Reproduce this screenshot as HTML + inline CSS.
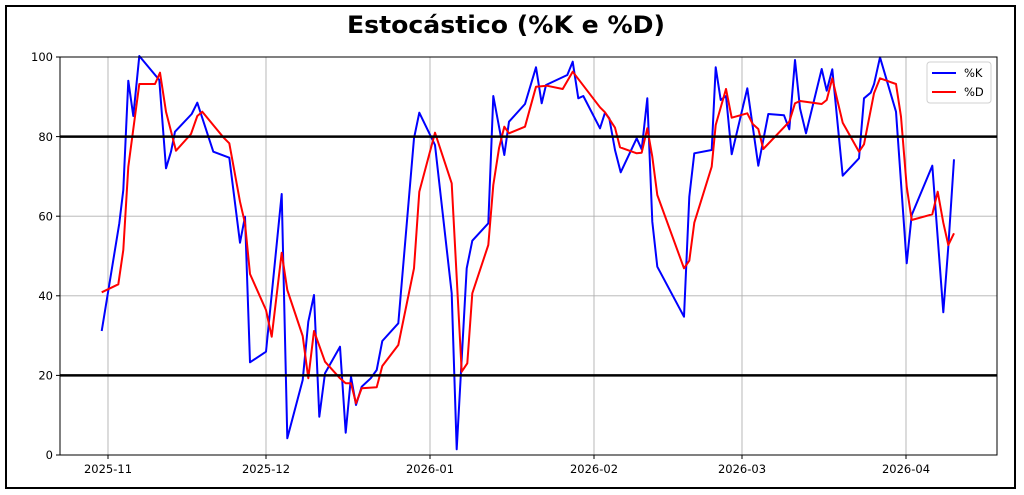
<!DOCTYPE html>
<html><head><meta charset="utf-8"><style>
body{margin:0;background:#fff;}
svg{display:block;}
text{font-family:"DejaVu Sans","Liberation Sans",sans-serif;}
</style></head><body>
<svg width="1024" height="495" viewBox="0 0 1024 495" xmlns="http://www.w3.org/2000/svg">
<rect x="0" y="0" width="1024" height="495" fill="#fff"/>
<rect x="6" y="6" width="1009" height="482" fill="none" stroke="#000" stroke-width="2"/>
<text x="506" y="33" text-anchor="middle" font-size="24" font-weight="bold" textLength="318" lengthAdjust="spacingAndGlyphs">Estocástico (%K e %D)</text>
<g stroke="#b0b0b0" stroke-width="0.9">
<line x1="108" y1="57" x2="108" y2="455"/><line x1="266" y1="57" x2="266" y2="455"/>
<line x1="430" y1="57" x2="430" y2="455"/><line x1="594" y1="57" x2="594" y2="455"/>
<line x1="742" y1="57" x2="742" y2="455"/><line x1="906" y1="57" x2="906" y2="455"/>
<line x1="60" y1="375.4" x2="997" y2="375.4"/><line x1="60" y1="295.8" x2="997" y2="295.8"/>
<line x1="60" y1="216.2" x2="997" y2="216.2"/><line x1="60" y1="136.6" x2="997" y2="136.6"/>
</g>
<g fill="none" stroke-width="2" stroke-linejoin="round">
<polyline stroke="#0000ff" points="101.7,331 119.3,223.3 123.3,190 128.3,80.7 133.3,116 139.3,56 159.3,80 166,168.3 171,151.7 175,131.7 191.7,114 197.3,102.7 213.3,151.7 229.3,157.7 240,242.7 245,216.7 250,362.3 266,351.7 281.7,194 287.3,438.3 302.7,380 308.3,321.7 314,295 319.3,416.7 325,373.3 340,346.7 345.7,432.7 351,376.7 356,405 361.7,386.7 370.7,378.3 376.7,370 382.3,341 398.3,323.3 414,138.3 419.3,112.7 435,145 451.7,293.3 456.7,449.3 466.7,268.3 472.3,240.7 488.3,223.3 493.3,96 504.3,155 509,121.7 525,104 536,67.3 541.7,103.3 546,85 567.3,75 572.7,61.7 578.3,98.3 583.3,96 600,128.3 605,112.7 609.3,118.3 615,150 620.7,172.3 636.7,138.3 641.7,149.3 647.3,98.3 652.3,221.7 657.3,266.7 684,316.7 689.3,196.7 694.3,153.3 711.7,150 715.7,67.3 720.7,100 726,96 731.7,154.3 747.3,88.3 758.3,165.7 768.3,114 784,115.3 789.3,129.3 795,60 800,108.3 806,133.3 821.7,69 826.7,90.7 832.3,69.3 842.7,175.7 859,158.3 864,98.3 870.7,92.7 874,84.3 880,57.3 896,111.7 906.7,263.3 911.7,215 932.3,165.7 943.3,312.3 948.3,246.7 954,159.3"/>
<polyline stroke="#ff0000" points="101.7,292.3 118.3,284.3 123.3,250 128.3,166.7 139.3,84 155,84 160,72.7 166,111.7 176,150.7 191,134 197.3,116 202.3,111.7 223.3,137.3 229.3,143.3 240,201.7 245,223.3 250,274 266,310 271.7,336.7 281.7,252.7 287.3,290 302.7,336 308.3,378.3 314,331 325,361.7 340,378.3 345.7,383.3 351,383.3 356,403.3 361.7,388.3 376.7,387.3 382.3,366 398.3,345 414,268.3 419.3,191.7 435,132.7 451.7,183.3 461.7,371.7 467.3,363.3 472.3,293.3 488.3,245 493.3,185 499,148.3 504.3,126.7 509,133.3 525,126.7 536,86.7 546.7,85.7 562.7,89 572.7,71.7 600,107.3 605,112.3 615,127.7 620,147.3 636.7,153.3 641.7,152.7 647.3,128.3 652.3,156.7 657.3,195 684,268.3 689.3,260.7 694.3,222.7 711.7,166.7 715.7,125 726,89 731.7,117.7 747.3,113.3 752.7,124 758.3,129 763.3,149 789.3,121.7 795,103.3 800,101 821.7,104 826.7,100 832.3,78.3 837.3,100 842.7,122.7 859,151.7 864,144.3 874,93.3 880,78.3 896,84 901,116.7 906.7,186.7 911.7,220 932.3,214.3 937.7,191.7 943.3,222.7 948.3,245 954,233.3"/>
</g>
<line x1="60" y1="136.6" x2="997" y2="136.6" stroke="#000" stroke-width="2.5"/>
<line x1="60" y1="375.4" x2="997" y2="375.4" stroke="#000" stroke-width="2.5"/>
<rect x="60" y="57" width="937" height="398" fill="none" stroke="#000" stroke-width="1"/>
<g stroke="#000" stroke-width="1">
<line x1="108" y1="455" x2="108" y2="459"/><line x1="266" y1="455" x2="266" y2="459"/>
<line x1="430" y1="455" x2="430" y2="459"/><line x1="594" y1="455" x2="594" y2="459"/>
<line x1="742" y1="455" x2="742" y2="459"/><line x1="906" y1="455" x2="906" y2="459"/>
<line x1="56" y1="455" x2="60" y2="455"/><line x1="56" y1="375.4" x2="60" y2="375.4"/>
<line x1="56" y1="295.8" x2="60" y2="295.8"/><line x1="56" y1="216.2" x2="60" y2="216.2"/>
<line x1="56" y1="136.6" x2="60" y2="136.6"/><line x1="56" y1="57" x2="60" y2="57"/>
</g>
<g font-size="11.5" fill="#000" text-anchor="end">
<text x="53" y="459">0</text><text x="53" y="379.5">20</text><text x="53" y="300">40</text>
<text x="53" y="220.5">60</text><text x="53" y="141">80</text><text x="53" y="61">100</text>
</g>
<g font-size="11.5" fill="#000" text-anchor="middle">
<text x="108" y="473">2025-11</text><text x="266" y="473">2025-12</text><text x="430" y="473">2026-01</text>
<text x="594" y="473">2026-02</text><text x="742" y="473">2026-03</text><text x="906" y="473">2026-04</text>
</g>
<rect x="927" y="62" width="64" height="41" rx="3" fill="#fff" fill-opacity="0.85" stroke="#d0d0d0"/>
<line x1="932" y1="73" x2="956" y2="73" stroke="#0000ff" stroke-width="2"/>
<line x1="932" y1="92" x2="956" y2="92" stroke="#ff0000" stroke-width="2"/>
<text x="964" y="77" font-size="11.5">%K</text>
<text x="964" y="96" font-size="11.5">%D</text>
</svg>
</body></html>
